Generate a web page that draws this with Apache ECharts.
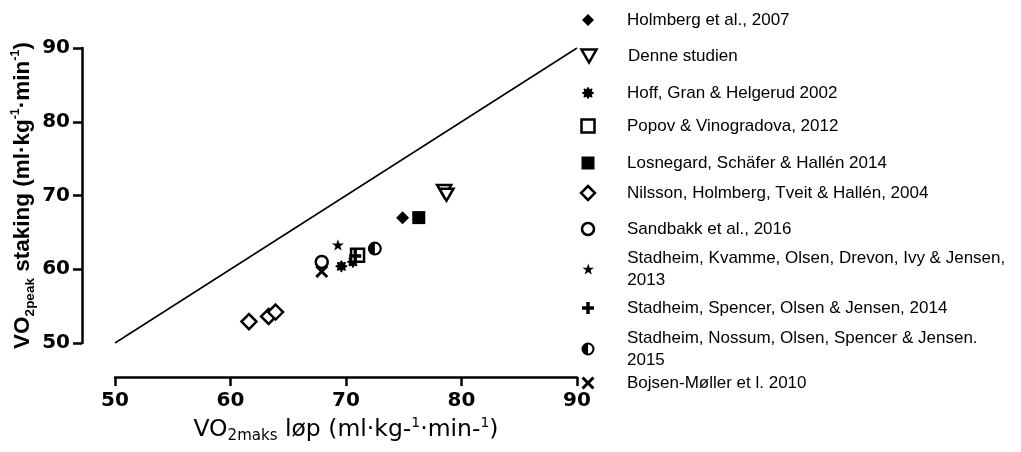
<!DOCTYPE html>
<html>
<head>
<meta charset="utf-8">
<script src="https://cdn.jsdelivr.net/npm/echarts@6/dist/echarts.min.js"></script>
<style>
  html, body { margin: 0; padding: 0; background: #fff; }
  #chart { width: 1021px; height: 452px; }
</style>
</head>
<body>
<div id="chart"></div>
<script>
// Study names, in legend order
const studyNames = [
  'Holmberg et al., 2007',
  'Denne studien',
  'Hoff, Gran & Helgerud 2002',
  'Popov & Vinogradova, 2012',
  'Losnegard, Schäfer & Hallén 2014',
  'Nilsson, Holmberg, Tveit & Hallén, 2004',
  'Sandbakk et al., 2016',
  'Stadheim, Kvamme, Olsen, Drevon, Ivy & Jensen,\n2013',
  'Stadheim, Spencer, Olsen & Jensen, 2014',
  'Stadheim, Nossum, Olsen, Spencer & Jensen.\n2015',
  'Bojsen-Møller et l. 2010'
];

// [VO2maks løp, VO2peak staking] per study group
const holmberg2007   = [[74.9, 67.0]];
const denneStudien   = [[78.5, 70.6], [78.7, 70.1]];
const hoff2002       = [[69.6, 60.4], [70.6, 61.0]];
const popov2012      = [[71.0, 61.9]];
const losnegard2014  = [[76.3, 67.0]];
const nilsson2004    = [[61.6, 52.9], [63.3, 53.6], [63.9, 54.2]];
const sandbakk2016   = [[67.9, 61.0]];
const stadheim2013   = [[69.3, 63.3]];
const stadheim2014   = [[70.8, 61.8]];
const stadheim2015   = [[72.5, 62.8]];
const bojsen2010     = [[67.9, 59.7]];

// Line of identity
const identityLine = [[50, 50], [90, 90]];

// Axis range and tick step (both axes)
const axisMin = 50;
const axisMax = 90;
const axisStep = 10;

// ---- marker shapes ----
function polarPath(fn, steps) {
  let d = '';
  for (let i = 0; i < steps; i++) {
    const a = i * 2 * Math.PI / steps;
    const r = fn(i, a);
    d += (i ? 'L' : 'M') + (10 + r * Math.sin(a)).toFixed(3) + ',' + (10 - r * Math.cos(a)).toFixed(3);
  }
  return 'path://' + d + 'Z';
}
const starSymbol = polarPath((i) => (i % 2 ? 3.9 : 10), 10);
const gearSymbol = polarPath((i, a) => 8.6 + 1.6 * Math.cos(8 * a), 96);
const diamondSymbol = 'path://M5,0L10,5L5,10L0,5Z';
const downTriangleSymbol = 'path://M0,0L12,0L6,10.4Z';
const squareSymbol = 'path://M0,0L10,0L10,10L0,10Z';
const plusSymbol = 'path://M3.6,0L6.4,0L6.4,3.6L10,3.6L10,6.4L6.4,6.4L6.4,10L3.6,10L3.6,6.4L0,6.4L0,3.6L3.6,3.6Z';
const crossSymbol = 'path://M0,1.6L1.6,0L5,3.4L8.4,0L10,1.6L6.6,5L10,8.4L8.4,10L5,6.6L1.6,10L0,8.4L3.4,5Z';
const halfCircleSymbol = 'path://M0,6A6,6 0 1,1 12,6A6,6 0 1,1 0,6Z' +
  'M1.9,6A4.1,4.1 0 1,0 10.1,6A4.1,4.1 0 1,0 1.9,6Z' +
  'M6,1.9A4.1,4.1 0 0,0 6,10.1Z';

const seriesData = [holmberg2007, denneStudien, hoff2002, popov2012, losnegard2014,
  nilsson2004, sandbakk2016, stadheim2013, stadheim2014, stadheim2015, bojsen2010];

// marker style per study: symbol, size in plot, size in legend, open (outlined)
const markerStyles = [
  { symbol: diamondSymbol,      size: 13, legendSize: 12, open: false },
  { symbol: downTriangleSymbol, size: 14, legendSize: 13, open: true },
  { symbol: gearSymbol,         size: 12, legendSize: 12, open: false },
  { symbol: squareSymbol,       size: 13, legendSize: 13, open: true },
  { symbol: squareSymbol,       size: 13, legendSize: 13, open: false },
  { symbol: diamondSymbol,      size: 15, legendSize: 14, open: true },
  { symbol: 'circle',           size: 12, legendSize: 12, open: true },
  { symbol: starSymbol,         size: 12, legendSize: 11, open: false },
  { symbol: plusSymbol,         size: 12, legendSize: 12, open: false },
  { symbol: halfCircleSymbol,   size: 14, legendSize: 13, open: false },
  { symbol: crossSymbol,        size: 13, legendSize: 13, open: false }
];

// legend layout: marker centre x, row centres (px from top)
const legendMarkerX = 588;
const legendRowCenters = [20, 56, 93, 126, 163, 193, 229, 269, 308, 349, 383];
const legendLineHeight = 22;
const outlineWidth = 2.5;

const series = [{
  type: 'line',
  name: 'identity',
  data: identityLine,
  symbol: 'none',
  silent: true,
  z: 1,
  lineStyle: { color: '#000', width: 1.5 },
  emphasis: { disabled: true }
}];

studyNames.forEach((name, i) => {
  const m = markerStyles[i];
  series.push({
    type: 'scatter',
    name: name,
    data: seriesData[i],
    symbol: m.symbol,
    symbolSize: m.size,
    symbolKeepAspect: true,
    z: 3,
    itemStyle: m.open
      ? { color: '#fff', borderColor: '#000', borderWidth: outlineWidth, opacity: 1 }
      : { color: '#000', borderColor: '#000', borderWidth: 0, opacity: 1 },
    emphasis: { disabled: true }
  });
});

const legends = studyNames.map((name, i) => {
  const m = markerStyles[i];
  const lines = name.split('\n').length;
  const halfIcon = m.legendSize / 2 + (m.open ? outlineWidth / 2 : 0);
  return {
    data: [name],
    orient: 'vertical',
    left: legendMarkerX - halfIcon,
    top: legendRowCenters[i] - lines * legendLineHeight / 2,
    padding: 0,
    itemWidth: 68,
    itemHeight: m.legendSize,
    symbolKeepAspect: true,
    selectedMode: false,
    itemStyle: m.open
      ? { borderWidth: outlineWidth, borderColor: '#000', color: '#fff' }
      : { borderWidth: 0, color: '#000' },
    textStyle: {
      fontFamily: 'Liberation Sans, Arial, sans-serif',
      fontSize: 17,
      color: '#000',
      lineHeight: legendLineHeight
    }
  };
});

const richTitle = (size, subSize, weight, family) => ({
  t:   { fontFamily: family, fontSize: size, fontWeight: weight, color: '#000', lineHeight: 28 },
  sub: { fontFamily: family, fontSize: subSize, fontWeight: weight, color: '#000', lineHeight: subSize, verticalAlign: 'bottom' },
  sup: { fontFamily: family, fontSize: subSize - 1, fontWeight: weight, color: '#000', lineHeight: subSize, verticalAlign: 'top' }
});

const axisCommon = {
  type: 'value',
  min: axisMin,
  max: axisMax,
  interval: axisStep,
  splitLine: { show: false },
  axisLine: { show: true, onZero: false, lineStyle: { color: '#000', width: 2.5 } },
  axisTick: { show: true, length: 9, lineStyle: { color: '#000', width: 2.5 } },
  nameLocation: 'middle'
};

const option = {
  animation: false,
  backgroundColor: '#fff',
  grid: { left: 115, right: 444, top: 48, bottom: 109, containLabel: false, outerBoundsMode: 'none' },
  xAxis: Object.assign({}, axisCommon, {
    offset: 34,
    axisLabel: { fontFamily: 'DejaVu Sans', fontWeight: 'bold', fontSize: 20, color: '#000', margin: 14 },
    name: '{t|VO}{sub|2maks}{t| løp (ml·kg-}{sup|1}{t|·min-}{sup|1}{t|)}',
    nameGap: 27,
    nameTextStyle: { rich: richTitle(23.5, 15, 'normal', 'DejaVu Sans') }
  }),
  yAxis: Object.assign({}, axisCommon, {
    offset: 33,
    axisLabel: { fontFamily: 'DejaVu Sans', fontWeight: 'bold', fontSize: 20, color: '#000', margin: 12 },
    name: '{t|VO}{sub|2peak}{t| staking (ml·kg}{sup|-1}{t|·min}{sup|-1}{t|)}',
    nameGap: 45,
    nameRotate: 90,
    nameTextStyle: { rich: richTitle(22.5, 13.5, 'bold', 'Liberation Sans, Arial, sans-serif') }
  }),
  legend: legends,
  series: series
};

const chart = echarts.init(document.getElementById('chart'), null, { renderer: 'canvas' });
chart.setOption(option);
</script>
</body>
</html>
